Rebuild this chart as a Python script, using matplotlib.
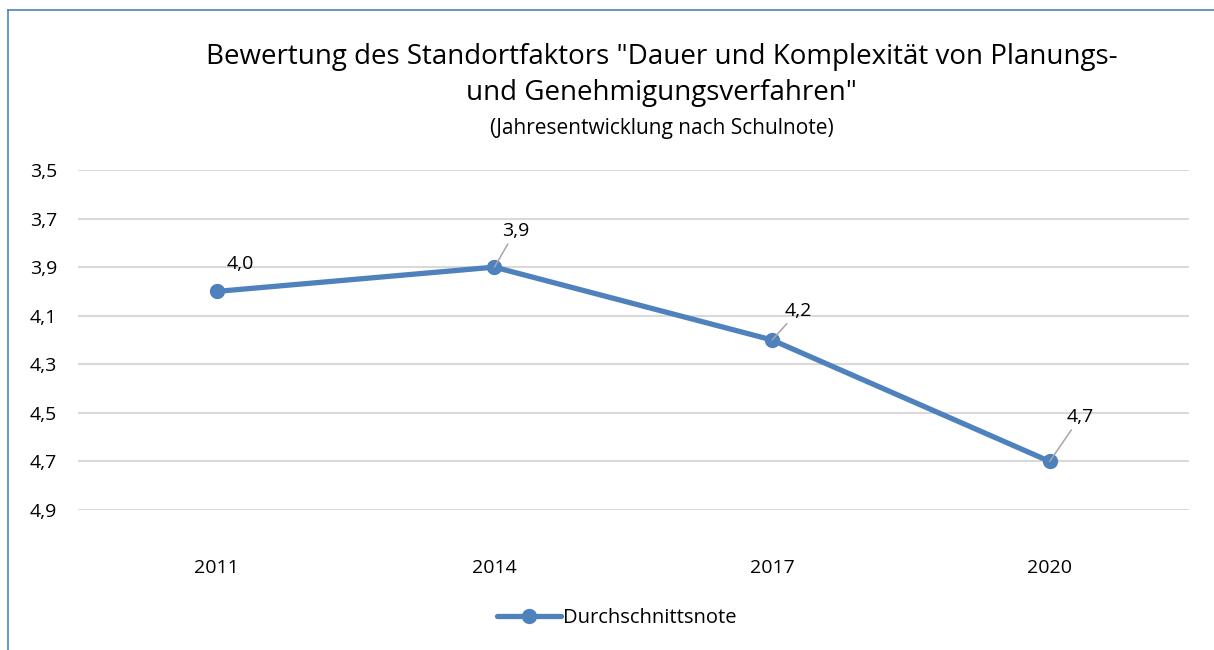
import matplotlib
matplotlib.use('Agg')

import matplotlib.pyplot as plt
from matplotlib.lines import Line2D
from matplotlib.ticker import FuncFormatter

# data
years = ['2011', '2014', '2017', '2020']
noten = [4.0, 3.9, 4.2, 4.7]
label_offsets = [(17, 20), (15, 26), (19, 21), (22, 32)]   # points, label position vs. marker
leader = [False, True, True, True]
yticks = [3.5, 3.7, 3.9, 4.1, 4.3, 4.5, 4.7, 4.9]

blue = '#4f81bd'
grey = '#a6a6a6'

plt.rcParams['font.family'] = ['Open Sans', 'DejaVu Sans']

fig = plt.figure(figsize=(12.14, 6.5), dpi=100)
ax = fig.add_axes([0.0643, 0.2154, 0.9147, 0.5231])

x = list(range(len(years)))
ax.plot(x, noten, color=blue, lw=3.8, marker='o', markersize=10,
        solid_capstyle='round', label='Durchschnittsnote', zorder=3)

for xi, v, off, ld in zip(x, noten, label_offsets, leader):
    txt = f'{v:.1f}'.replace('.', ',')
    props = dict(arrowstyle='-', color=grey, lw=1.1, shrinkA=1, shrinkB=0) if ld else None
    ax.annotate(txt, xy=(xi, v), xytext=off, textcoords='offset points',
                ha='center', va='center', fontsize=14, color='#000000',
                arrowprops=props, zorder=4)

ax.set_xlim(-0.5, len(years) - 0.5)
ax.set_ylim(4.9, 3.5)
ax.set_yticks(yticks)
ax.yaxis.set_major_formatter(FuncFormatter(lambda v, p: f'{v:.1f}'.replace('.', ',')))
ax.set_xticks(x)
ax.set_xticklabels(years)
ax.grid(axis='y', color='#d9d9d9', lw=1.5)
ax.set_axisbelow(True)
for s in ax.spines.values():
    s.set_visible(False)
ax.tick_params(length=0, labelsize=14, colors='#000000')
ax.tick_params(axis='y', pad=15)
ax.tick_params(axis='x', pad=35)

fig.text(0.545, 0.912, 'Bewertung des Standortfaktors "Dauer und Komplexität von Planungs-',
         ha='center', va='center', fontsize=20)
fig.text(0.545, 0.857, 'und Genehmigungsverfahren"', ha='center', va='center', fontsize=20)
fig.text(0.545, 0.803, '(Jahresentwicklung nach Schulnote)', ha='center', va='center', fontsize=15)

leg = fig.legend(loc='center', bbox_to_anchor=(0.508, 0.049), frameon=False,
                 fontsize=14.5, handlelength=3.2, handletextpad=0.1)

# blue frame on top and left
fig.add_artist(Line2D([0.0066, 1.0], [0.9846, 0.9846], color=blue, lw=1.2, transform=fig.transFigure))
fig.add_artist(Line2D([0.0066, 0.0066], [0.0, 0.9846], color=blue, lw=1.2, transform=fig.transFigure))

fig.savefig('out.png', dpi=100)
